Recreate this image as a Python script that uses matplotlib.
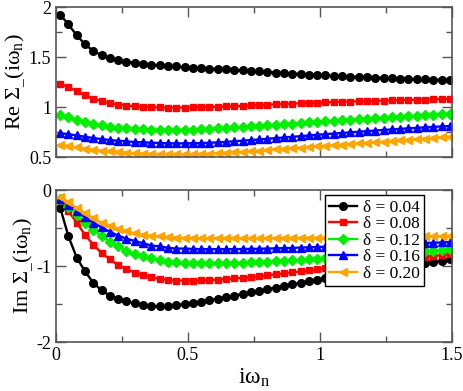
import numpy as np
import matplotlib
matplotlib.use("Agg")
import matplotlib.pyplot as plt
from matplotlib.ticker import MultipleLocator

plt.rcParams['font.family'] = ['Liberation Serif', 'DejaVu Serif']
plt.rcParams['mathtext.fontset'] = 'custom'
plt.rcParams['mathtext.rm'] = 'Liberation Serif'
plt.rcParams['mathtext.it'] = 'Liberation Serif'

# Matsubara frequencies (beta = 200)
n_idx = np.arange(48)
omega = (2 * n_idx + 1) * np.pi / 200.0

labels = ['δ = 0.04', 'δ = 0.08', 'δ = 0.12', 'δ = 0.16', 'δ = 0.20']
colors = ['black', '#ff0000', '#00ee00', '#0000ff', '#ffa500']
markers = ['o', 's', 'D', '^', '<']

re_004 = [1.924, 1.826, 1.717, 1.628, 1.560, 1.520, 1.490, 1.470, 1.454, 1.444, 1.434, 1.424, 1.418, 1.414, 1.408, 1.398,
          1.394, 1.390, 1.385, 1.380, 1.376, 1.371, 1.366, 1.361, 1.356, 1.351, 1.346, 1.341, 1.336, 1.331, 1.326, 1.321,
          1.317, 1.313, 1.309, 1.305, 1.301, 1.298, 1.295, 1.292, 1.289, 1.286, 1.283, 1.280, 1.277, 1.274, 1.272, 1.269]
re_008 = [1.234, 1.200, 1.158, 1.118, 1.086, 1.059, 1.039, 1.026, 1.016, 1.010, 1.003, 1.000, 0.997, 0.996, 0.996, 0.996,
          0.997, 0.999, 1.001, 1.004, 1.007, 1.010, 1.013, 1.017, 1.020, 1.024, 1.028, 1.031, 1.035, 1.038, 1.042, 1.045,
          1.048, 1.051, 1.054, 1.056, 1.059, 1.061, 1.064, 1.066, 1.068, 1.070, 1.072, 1.074, 1.076, 1.078, 1.080, 1.082]
re_012 = [0.921, 0.898, 0.872, 0.849, 0.832, 0.819, 0.806, 0.796, 0.789, 0.783, 0.780, 0.776, 0.774, 0.773, 0.773, 0.774,
          0.776, 0.779, 0.783, 0.787, 0.792, 0.797, 0.802, 0.808, 0.813, 0.819, 0.825, 0.831, 0.836, 0.842, 0.847, 0.852,
          0.857, 0.862, 0.867, 0.872, 0.877, 0.882, 0.887, 0.892, 0.897, 0.902, 0.907, 0.912, 0.917, 0.922, 0.927, 0.931]
re_016 = [0.740, 0.730, 0.717, 0.704, 0.691, 0.681, 0.671, 0.664, 0.658, 0.651, 0.648, 0.645, 0.641, 0.639, 0.638, 0.638,
          0.639, 0.641, 0.644, 0.648, 0.653, 0.659, 0.665, 0.671, 0.677, 0.684, 0.690, 0.697, 0.703, 0.710, 0.717, 0.724,
          0.730, 0.736, 0.742, 0.748, 0.754, 0.760, 0.766, 0.772, 0.777, 0.783, 0.788, 0.793, 0.798, 0.803, 0.807, 0.811]
re_020 = [0.625, 0.609, 0.599, 0.586, 0.576, 0.566, 0.559, 0.553, 0.546, 0.539, 0.536, 0.533, 0.530, 0.528, 0.527, 0.527,
          0.529, 0.532, 0.536, 0.540, 0.545, 0.550, 0.555, 0.560, 0.566, 0.572, 0.578, 0.584, 0.590, 0.596, 0.602, 0.608,
          0.614, 0.620, 0.626, 0.632, 0.638, 0.644, 0.650, 0.656, 0.662, 0.668, 0.674, 0.680, 0.686, 0.692, 0.698, 0.703]

im_004 = [-0.23, -0.61, -0.89, -1.07, -1.22, -1.32, -1.39, -1.43, -1.465, -1.49, -1.51, -1.526, -1.53, -1.526, -1.513, -1.500,
          -1.485, -1.467, -1.448, -1.428, -1.408, -1.388, -1.367, -1.346, -1.325, -1.304, -1.283, -1.262, -1.241, -1.220, -1.199, -1.178,
          -1.158, -1.141, -1.124, -1.107, -1.090, -1.073, -1.056, -1.040, -1.024, -1.008, -0.992, -0.976, -0.960, -0.944, -0.928, -0.912]
im_008 = [-0.13, -0.28, -0.43, -0.59, -0.72, -0.83, -0.91, -0.99, -1.04, -1.09, -1.12, -1.15, -1.165, -1.18, -1.19, -1.19,
          -1.190, -1.188, -1.184, -1.178, -1.171, -1.163, -1.154, -1.144, -1.133, -1.121, -1.109, -1.096, -1.083, -1.070, -1.057, -1.044,
          -1.031, -1.018, -1.005, -0.992, -0.979, -0.966, -0.953, -0.940, -0.928, -0.916, -0.904, -0.892, -0.880, -0.868, -0.857, -0.846]
im_012 = [-0.12, -0.22, -0.33, -0.43, -0.52, -0.61, -0.68, -0.74, -0.80, -0.84, -0.87, -0.90, -0.92, -0.94, -0.95, -0.96,
          -0.962, -0.963, -0.963, -0.962, -0.960, -0.958, -0.955, -0.951, -0.947, -0.942, -0.937, -0.931, -0.925, -0.919, -0.912, -0.905,
          -0.898, -0.891, -0.884, -0.877, -0.869, -0.861, -0.853, -0.845, -0.837, -0.829, -0.821, -0.813, -0.805, -0.797, -0.789, -0.781]
im_016 = [-0.12, -0.20, -0.27, -0.36, -0.43, -0.49, -0.55, -0.60, -0.64, -0.67, -0.70, -0.73, -0.74, -0.76, -0.77, -0.77,
          -0.775, -0.777, -0.778, -0.778, -0.778, -0.777, -0.776, -0.774, -0.772, -0.770, -0.767, -0.764, -0.761, -0.757, -0.753, -0.749,
          -0.745, -0.741, -0.737, -0.733, -0.729, -0.725, -0.721, -0.717, -0.713, -0.709, -0.705, -0.701, -0.697, -0.693, -0.689, -0.685]
im_020 = [-0.09, -0.16, -0.24, -0.30, -0.37, -0.43, -0.47, -0.51, -0.54, -0.57, -0.59, -0.60, -0.61, -0.62, -0.625, -0.628,
          -0.630, -0.632, -0.634, -0.635, -0.636, -0.636, -0.636, -0.636, -0.635, -0.634, -0.633, -0.632, -0.631, -0.630, -0.629, -0.628,
          -0.627, -0.626, -0.625, -0.624, -0.622, -0.621, -0.619, -0.618, -0.616, -0.615, -0.613, -0.611, -0.609, -0.607, -0.605, -0.603]

re_series = [re_004, re_008, re_012, re_016, re_020]
im_series = [im_004, im_008, im_012, im_016, im_020]

fig = plt.figure(figsize=(4.63, 3.91), dpi=100)
ax1 = fig.add_axes([0.121, 0.598, 0.855, 0.384])
ax2 = fig.add_axes([0.121, 0.125, 0.855, 0.389])

msizes = [5.5, 5, 5, 5.5, 5.5]
for vals, c, m, ms, lab in zip(re_series, colors, markers, msizes, labels):
    ax1.plot(omega, vals, color=c, marker=m, markersize=ms, lw=1.7, label=lab)
for vals, c, m, ms, lab in zip(im_series, colors, markers, msizes, labels):
    ax2.plot(omega, vals, color=c, marker=m, markersize=ms, lw=1.7, label=lab)

for ax in (ax1, ax2):
    ax.set_xlim(0, 1.5)
    ax.xaxis.set_major_locator(MultipleLocator(0.5))
    ax.xaxis.set_minor_locator(MultipleLocator(0.25))
    ax.tick_params(which='both', direction='in', top=True, right=True, labelsize=13, width=1, color='#555555')
    ax.tick_params(which='major', length=7)
    ax.tick_params(which='minor', length=4)
    for s in ax.spines.values():
        s.set_color('#555555')
        s.set_linewidth(1.2)

ax1.set_ylim(0.5, 2)
ax1.yaxis.set_major_locator(MultipleLocator(0.5))
ax1.yaxis.set_minor_locator(MultipleLocator(0.25))
ax1.set_yticks([0.5, 1, 1.5, 2])
ax1.set_yticklabels(['0.5', '1', '1.5', '2'])
ax1.tick_params(labelbottom=False)

ax2.set_ylim(-2, 0)
ax2.yaxis.set_major_locator(MultipleLocator(1))
ax2.yaxis.set_minor_locator(MultipleLocator(0.5))
ax2.set_yticks([-2, -1, 0])
ax2.set_yticklabels(['-2', '-1', '0'])
ax2.set_xticks([0, 0.5, 1, 1.5])
ax2.set_xticklabels(['0', '0.5', '1', '1.5'])

ax1.set_ylabel(r'Re $\Sigma_{\_}$(i$\omega_{\rm n}$)', fontsize=16, labelpad=1)
ax2.set_ylabel(r'Im $\Sigma_{\_}$(i$\omega_{\rm n}$)', fontsize=16, labelpad=1)
ax2.set_xlabel(r'i$\omega_{\rm n}$', fontsize=17, labelpad=2)

leg = ax2.legend(loc='upper right', bbox_to_anchor=(0.93, 0.965), fontsize=12.5,
                 frameon=True, fancybox=False, edgecolor='black', framealpha=1,
                 handlelength=1.6, handletextpad=0.35, borderpad=0.25, labelspacing=0.02,
                 borderaxespad=0.0)
leg.get_frame().set_linewidth(1.0)

fig.savefig('out.png', dpi=100)
